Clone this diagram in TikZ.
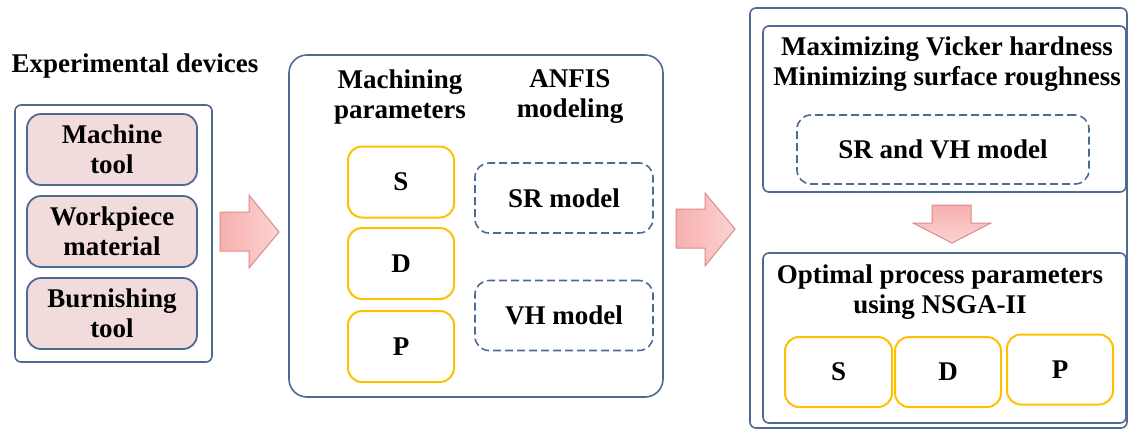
\documentclass[tikz,border=0pt]{standalone}
\usepackage{fontspec}
\setmainfont{Liberation Serif}
\definecolor{frameblue}{HTML}{4F6A92}
\definecolor{devpink}{HTML}{F2DCDB}
\definecolor{paramorange}{HTML}{FFC000}
\definecolor{arrowpink}{HTML}{F7AFAF}
\definecolor{arrowedge}{HTML}{D98C8C}
\tikzset{
  lbl/.style={font=\bfseries\fontsize{13.5}{15}\selectfont, align=center},
  frame/.style={draw=frameblue, line width=0.8pt, rounded corners=3pt},
  devbox/.style={lbl, draw=frameblue, line width=0.9pt, fill=devpink, rounded corners=7pt,
    minimum width=85pt, minimum height=35.5pt},
  parbox/.style={lbl, draw=paramorange, line width=1pt, rounded corners=7pt,
    minimum width=53pt, minimum height=35.5pt},
  modelbox/.style={lbl, draw=frameblue, line width=0.8pt, dash pattern=on 4pt off 2pt, rounded corners=7pt,
    minimum height=35pt},
  fatarrow/.style={draw=arrowedge, line width=0.5pt, left color=arrowpink, right color=arrowpink!55!white}
}
\begin{document}
\begin{tikzpicture}[x=0.5pt, y=-0.5pt]
    \useasboundingbox (0,0) rectangle (1129,430);
    % experimental devices
    \node[lbl] (devtitle) at (135,66) {Experimental devices};
    \node[frame, minimum width=98.5pt, minimum height=128.5pt] (devframe) at (113.5,233.5) {};
    \node[devbox] (machine) at (112,149.5) {Machine\\tool};
    \node[devbox] (workpiece) at (112,231.5) {Workpiece\\material};
    \node[devbox] (burnish) at (112,313.5) {Burnishing\\tool};
    \draw[fatarrow] (220,212) -- (249,212) -- (249,195) -- (279,232) -- (249,268) -- (249,251) -- (220,251) -- cycle;
    % parameters and ANFIS models
    \node[frame, rounded corners=9pt, minimum width=187pt, minimum height=171pt] (anfisframe) at (476,226) {};
    \node[lbl] (machpar) at (400,97) {Machining\\parameters};
    \node[lbl] (anfis) at (570,97) {ANFIS\\modeling};
    \node[parbox] (speed) at (401,182) {S};
    \node[parbox] (depth) at (401,263.5) {D};
    \node[parbox] (press) at (401,346.5) {P};
    \node[modelbox, minimum width=89pt] (srmodel) at (564,198) {SR model};
    \node[modelbox, minimum width=89pt] (vhmodel) at (564,315.5) {VH model};
    \draw[fatarrow] (676,209) -- (705,209) -- (705,193) -- (735,229) -- (705,266) -- (705,248) -- (676,248) -- cycle;
    % optimisation
    \node[frame, minimum width=188.5pt, minimum height=210pt] (optframe) at (938.5,218) {};
    \node[frame, minimum width=181.5pt, minimum height=83pt] (objframe) at (944.5,109) {};
    \node[lbl] (objective) at (947,64) {Maximizing Vicker hardness\\Minimizing surface roughness};
    \node[modelbox, minimum width=146pt, minimum height=34.5pt] (bothmodel) at (943,149.5) {SR and VH model};
    \draw[fatarrow, top color=arrowpink, bottom color=arrowpink!55!white] (932,205) -- (971,205) -- (971,223) -- (991,223) -- (952,243) -- (913,223) -- (932,223) -- cycle;
    \node[frame, minimum width=181.5pt, minimum height=85pt] (nsgaframe) at (944.5,338) {};
    \node[lbl] (nsga) at (940,292) {Optimal process parameters\\using NSGA-II};
    \node[parbox, minimum width=53.5pt, minimum height=35pt] (optspeed) at (838.5,372) {S};
    \node[parbox, minimum width=53pt, minimum height=35pt] (optdepth) at (948,372) {D};
    \node[parbox, minimum width=53pt, minimum height=35pt] (optpress) at (1060,369.5) {P};
\end{tikzpicture}
\end{document}
